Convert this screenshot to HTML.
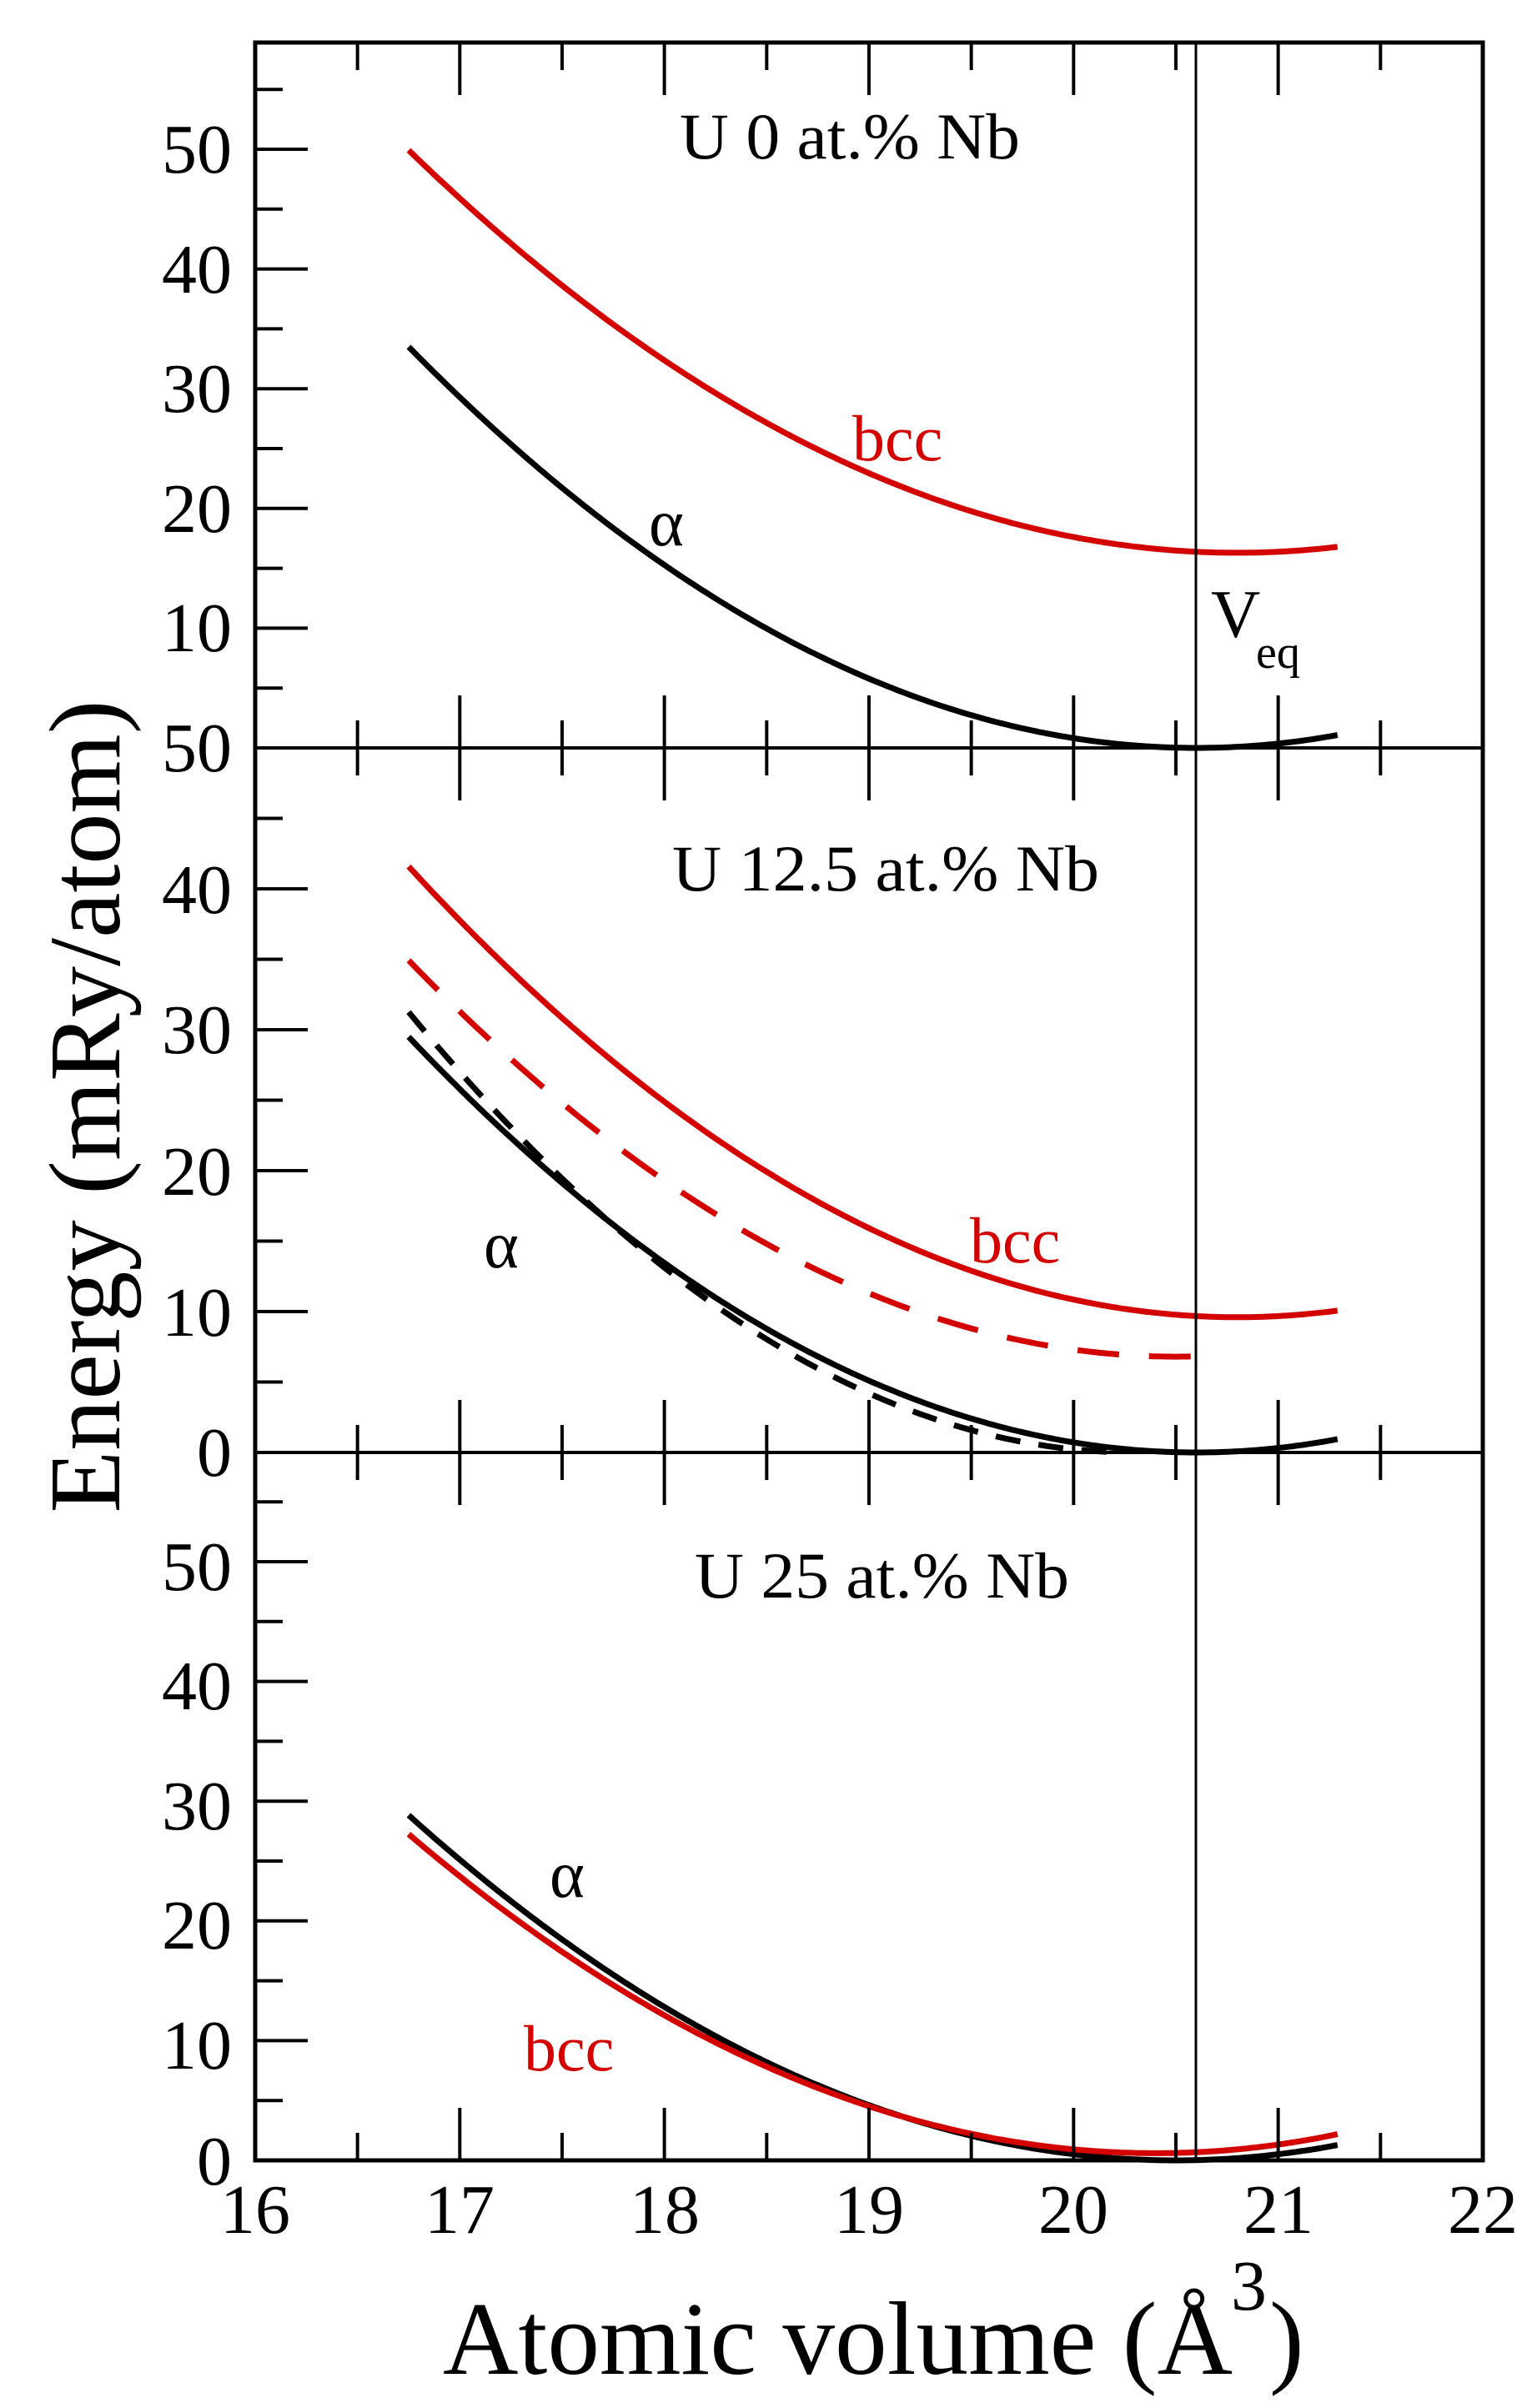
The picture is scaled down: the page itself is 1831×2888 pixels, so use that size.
<!DOCTYPE html>
<html><head><meta charset="utf-8"><style>
html,body{margin:0;padding:0;background:#fff;}
svg{display:block;}
text{font-family:"Liberation Serif",serif;}
</style></head><body>
<svg id="s" width="1831" height="2888" viewBox="0 0 1831 2888" xmlns="http://www.w3.org/2000/svg">
<g id="g"></g>
<g font-size="84" text-anchor="end" fill="#000">
<text x="278" y="207">50</text>
<text x="278" y="351">40</text>
<text x="278" y="494">30</text>
<text x="278" y="638">20</text>
<text x="278" y="781">10</text>
<text x="278" y="925">50</text>
<text x="278" y="1095">40</text>
<text x="278" y="1263">30</text>
<text x="278" y="1433">20</text>
<text x="278" y="1602">10</text>
<text x="278" y="1770">0</text>
<text x="278" y="1907">50</text>
<text x="278" y="2050">40</text>
<text x="278" y="2194">30</text>
<text x="278" y="2337">20</text>
<text x="278" y="2481">10</text>
<text x="278" y="2620">0</text>
</g>
<g font-size="84" text-anchor="middle" fill="#000">
<text x="306" y="2678">16</text>
<text x="551" y="2678">17</text>
<text x="797" y="2678">18</text>
<text x="1042" y="2678">19</text>
<text x="1287" y="2678">20</text>
<text x="1533" y="2678">21</text>
<text x="1778" y="2678">22</text>
</g>
<text transform="translate(143,1327) rotate(-90)" font-size="122" text-anchor="middle" textLength="975" lengthAdjust="spacingAndGlyphs">Energy (mRy/atom)</text>
<text x="531" y="2847" font-size="125" textLength="947" lengthAdjust="spacingAndGlyphs">Atomic volume (Å</text>
<text x="1476" y="2770" font-size="86">3</text>
<text x="1522" y="2847" font-size="125">)</text>
<g font-size="78" fill="#000">
<text x="815" y="190" textLength="408" lengthAdjust="spacingAndGlyphs">U 0 at.% Nb</text>
<text x="806" y="1068" textLength="512" lengthAdjust="spacingAndGlyphs">U 12.5 at.% Nb</text>
<text x="833" y="1916" textLength="449" lengthAdjust="spacingAndGlyphs">U 25 at.% Nb</text>
<text x="778" y="654" font-size="80">α</text>
<text x="580" y="1520" font-size="80">α</text>
<text x="659" y="2275" font-size="80">α</text>
<text x="1452" y="764" font-size="82">V</text>
<text x="1506" y="801" font-size="56">eq</text>
</g>
<g font-size="78" fill="#d40000">
<text x="1022" y="552">bcc</text>
<text x="1163" y="1514">bcc</text>
<text x="628" y="2483">bcc</text>
</g>
</svg>
<script>
var g=document.getElementById('g');var NS='http://www.w3.org/2000/svg';
function el(n,a){var e=document.createElementNS(NS,n);for(var k in a)e.setAttribute(k,a[k]);g.appendChild(e);return e;}
function X(v){return 306+(v-16)*245.33;}
var P=[{y0:897,s:14.36,top:51,maj:[10,20,30,40,50],min:[5,15,25,35,45,55]},
{y0:1742,s:16.9,top:897,maj:[10,20,30,40],min:[5,15,25,35,45]},
{y0:2591,s:14.36,top:1742,maj:[10,20,30,40,50],min:[5,15,25,35,45,55]}];
var C=[[0,2.26,20.6,0,21.3,'#000',''],[0,2.05,20.8,16.3,21.3,'#d40000',''],
[1,1.95,20.8,9.6,21.3,'#d40000',''],[1,2.0,20.5,6.8,20.7,'#d40000','50 36'],
[1,1.99,20.6,0,21.3,'#000',''],[1,2.48,20.3,0,20.2,'#000','30 22'],
[2,2.05,20.5,0,21.3,'#000',''],[2,2.0,20.4,0.6,21.3,'#d40000','']];
C.forEach(function(c){var p=P[c[0]],d='';for(var x=16.75;x<=c[4]+1e-6;x+=0.02){var E=c[3]+c[1]*(x-c[2])*(x-c[2]);d+=(d?'L':'M')+X(x).toFixed(1)+' '+(p.y0-E*p.s).toFixed(1);}
el('path',{d:d,fill:'none',stroke:c[5],'stroke-width':7,'stroke-dasharray':c[6]||'none'});});
P.forEach(function(p){
for(var v=16.5;v<21.6;v+=0.5){var L=(v%1===0)?63:33;var x=X(v);
el('line',{x1:x,y1:p.top,x2:x,y2:p.top+L,stroke:'#000','stroke-width':4});
el('line',{x1:x,y1:p.y0,x2:x,y2:p.y0-L,stroke:'#000','stroke-width':4});}
p.maj.forEach(function(v){var y=p.y0-v*p.s;el('line',{x1:306,y1:y,x2:369,y2:y,stroke:'#000','stroke-width':4});});
p.min.forEach(function(v){var y=p.y0-v*p.s;if(y>p.top+2)el('line',{x1:306,y1:y,x2:339,y2:y,stroke:'#000','stroke-width':4});});
});
el('line',{x1:1434,y1:51,x2:1434,y2:2591,stroke:'#000','stroke-width':3});
el('rect',{x:306,y:51,width:1472,height:2540,fill:'none',stroke:'#000','stroke-width':5});
el('line',{x1:306,y1:897,x2:1778,y2:897,stroke:'#000','stroke-width':4});
el('line',{x1:306,y1:1742,x2:1778,y2:1742,stroke:'#000','stroke-width':4});
</script>
</body></html>
